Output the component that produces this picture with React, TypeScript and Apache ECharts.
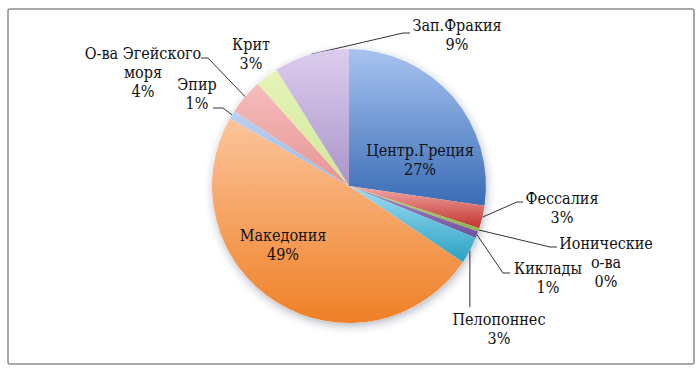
import React, { useEffect, useRef } from "react";
import * as echarts from "echarts";

const regions = [
  "Центр.Греция",
  "Фессалия",
  "Ионические\nо-ва",
  "Киклады",
  "Пелопоннес",
  "Македония",
  "Эпир",
  "О-ва Эгейского\nморя",
  "Крит",
  "Зап.Фракия",
];
const shares = [27.3, 2.7, 0.4, 0.8, 3.2, 48.8, 1.0, 4.2, 2.7, 8.9];
const colorTop = ["#a7c3f0", "#f2a9a7", "#b5d67a", "#a58bc6", "#9fdcf2", "#fcc49c", "#bcd1f2", "#f6bcbc", "#e6f4b8", "#dccdee"];
const colorBottom = ["#3a6cb6", "#c0332e", "#8cb446", "#6f519a", "#2aa2c4", "#ef8026", "#9ab8e8", "#e69494", "#d0e79a", "#a995c9"];

// label placement: [centerX, centerY, bendX, bendY, endX, endY] (null = inside / no line)
const labelPlaces: (number[] | null)[] = [
  [420, 160],
  [562, 208, 517, 202, 523, 202],
  [606, 262, 550, 247, 557, 247],
  [548, 278, 503, 273, 510, 273],
  [499, 329, -1, 300, -1, 307],
  [283, 245],
  [197, 94, 223, 108, 213, 108],
  [143, 72, 208, 58, 201, 58],
  [251, 54],
  [457, 35, 403, 33, 410, 33],
];

export default function App() {
  const ref = useRef<HTMLDivElement>(null);
  useEffect(() => {
    if (!ref.current) return;
    const chart = echarts.init(ref.current, null, { renderer: "svg" });
    const data = regions.map((name, i) => {
      const place = labelPlaces[i];
      const hasLine = place && place.length > 2;
      return {
        name,
        value: shares[i],
        itemStyle: {
          color: new echarts.graphic.LinearGradient(0, 0, 0, 1, [
            { offset: 0, color: colorTop[i] },
            { offset: 1, color: colorBottom[i] },
          ]),
        },
        labelLine: { show: !!hasLine },
      };
    });
    chart.setOption({
      animation: false,
      backgroundColor: "#ffffff",
      graphic: [
        {
          type: "rect",
          shape: { x: 8, y: 9, width: 686, height: 355, r: 2 },
          style: { fill: "#ffffff", stroke: "#8c8c8c", lineWidth: 1.5 },
          z: -10,
        },
      ],
      series: [
        {
          type: "pie",
          silent: true,
          center: [349, 186],
          radius: 137,
          z: 1,
          label: { show: false },
          labelLine: { show: false },
          itemStyle: {
            color: "#ffffff",
            shadowBlur: 8,
            shadowOffsetY: 3,
            shadowOffsetX: 1,
            shadowColor: "rgba(40,50,80,0.35)",
          },
          data: [{ value: 1, name: "" }],
        },
        {
          type: "pie",
          z: 2,
          center: [349, 186],
          radius: 137,
          startAngle: 90,
          clockwise: true,
          avoidLabelOverlap: false,
          label: {
            show: true,
            position: "outside",
            fontFamily: "'DejaVu Serif Condensed', 'DejaVu Serif', 'Liberation Serif', serif",
            fontSize: 16,
            lineHeight: 19,
            color: "#111111",
            align: "center",
            formatter: (p: any) => `${p.name}\n${Math.round(p.percent)}%`,
          },
          labelLine: { show: true, lineStyle: { color: "#333333", width: 1 } },
          labelLayout: (params: any) => {
            const place = labelPlaces[params.dataIndex];
            if (!place) return {};
            const res: any = { x: place[0], y: place[1], align: "center", verticalAlign: "middle" };
            if (place.length > 2 && params.labelLinePoints) {
              const start = params.labelLinePoints[0];
              const bx = place[2] < 0 ? start[0] : place[2];
              const ex = place[4] < 0 ? start[0] : place[4];
              res.labelLinePoints = [
                [start[0], start[1]],
                [bx, place[3]],
                [ex, place[5]],
              ];
            }
            return res;
          },
          data,
        },
      ],
    });
    return () => chart.dispose();
  }, []);
  return (
    <div
      ref={ref}
      style={{ position: "fixed", left: 0, top: 0, width: 700, height: 374 }}
    />
  );
}
